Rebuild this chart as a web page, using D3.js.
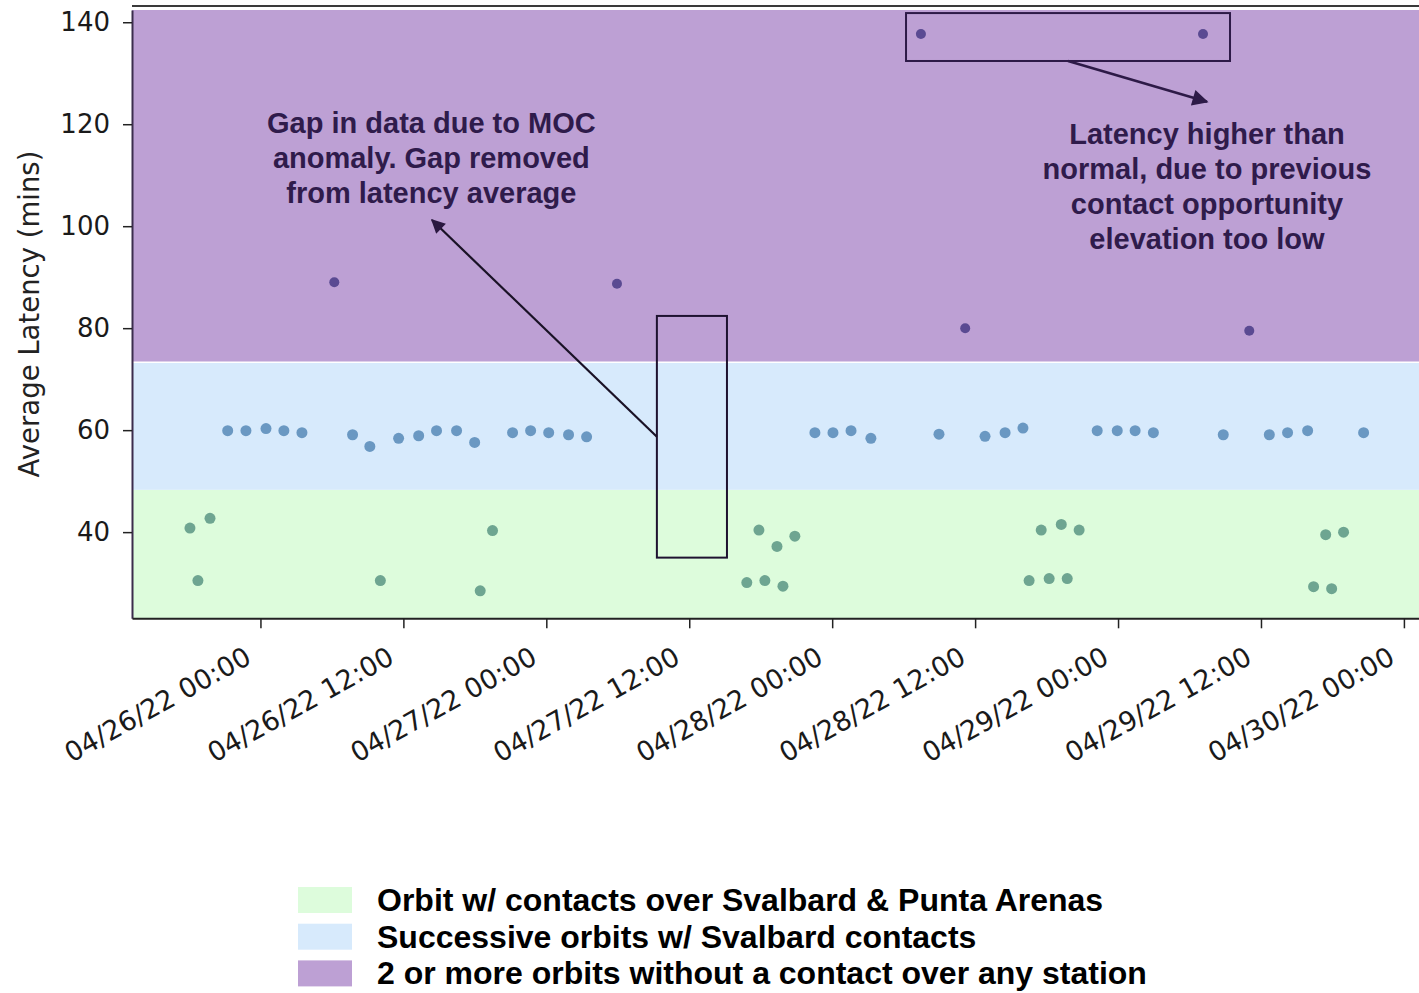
<!DOCTYPE html>
<html><head><meta charset="utf-8">
<script src="https://cdn.jsdelivr.net/npm/d3@7"></script>
<style>body{margin:0;background:#fff}svg{display:block}</style>
</head><body><svg id="c" width="1419" height="993"></svg>
<script>
// ---------- data ----------
const xTickDates = ["2022-04-26T00:00","2022-04-26T12:00","2022-04-27T00:00","2022-04-27T12:00","2022-04-28T00:00","2022-04-28T12:00","2022-04-29T00:00","2022-04-29T12:00","2022-04-30T00:00"];
const yTickValues = [40,60,80,100,120,140];
const xDomain = ["2022-04-25T13:13","2022-04-30T01:16"];
const yDomain = [23.1, 142.4];

const greenTimes = ["2022-04-25T18:05","2022-04-25T18:45","2022-04-25T19:46","2022-04-26T10:04","2022-04-26T18:27","2022-04-26T19:29",
  "2022-04-27T16:50","2022-04-27T17:51","2022-04-27T18:21","2022-04-27T19:22","2022-04-27T19:52","2022-04-27T20:52",
  "2022-04-28T16:32","2022-04-28T17:33","2022-04-28T18:13","2022-04-28T19:14","2022-04-28T19:44","2022-04-28T20:44",
  "2022-04-29T16:25","2022-04-29T17:26","2022-04-29T17:56","2022-04-29T18:56"];
const greenValues = [40.8,30.5,42.7,30.5,28.5,40.3, 30.1,40.4,30.5,37.2,29.4,39.2, 30.5,40.4,30.9,41.5,30.9,40.4, 29.3,39.5,28.9,40.0];

const blueTimes = ["2022-04-25T21:15","2022-04-25T22:47","2022-04-26T00:28","2022-04-26T01:58","2022-04-26T03:29",
  "2022-04-26T07:44","2022-04-26T09:11","2022-04-26T11:36","2022-04-26T13:17","2022-04-26T14:47","2022-04-26T16:28","2022-04-26T17:59",
  "2022-04-26T21:10","2022-04-26T22:41","2022-04-27T00:12","2022-04-27T01:52","2022-04-27T03:23",
  "2022-04-27T22:33","2022-04-28T00:04","2022-04-28T01:35","2022-04-28T03:15",
  "2022-04-28T08:58","2022-04-28T12:50","2022-04-28T14:31","2022-04-28T16:01",
  "2022-04-28T22:15","2022-04-28T23:56","2022-04-29T01:26","2022-04-29T02:58",
  "2022-04-29T08:50","2022-04-29T12:42","2022-04-29T14:14","2022-04-29T15:55","2022-04-29T20:37"];
const blueValues = [59.9,59.9,60.3,59.9,59.5, 59.1,56.8,58.4,58.9,59.9,59.9,57.6, 59.5,59.9,59.5,59.1,58.7,
  59.5,59.5,59.9,58.4, 59.2,58.8,59.5,60.4, 59.9,59.9,59.9,59.5, 59.1,59.1,59.5,59.9,59.5];

const purpleTimes = ["2022-04-26T06:12","2022-04-27T05:56","2022-04-28T07:27","2022-04-28T11:10","2022-04-29T07:08","2022-04-29T11:01"];
const purpleValues = [89.0,88.7,137.7,80.0,137.7,79.5];

const bandNames = ["Orbit w/ contacts over Svalbard & Punta Arenas","Successive orbits w/ Svalbard contacts","2 or more orbits without a contact over any station"];
const bandLimits = [23.1, 48.3, 73.3, 142.4];
const bandColors = ["#ddfcdc","#d7eafc","#bda0d4"];
const pointColors = ["#6ea591","#6a98c2","#5a4a92"];

const gapNote = ["Gap in data due to MOC","anomaly. Gap removed","from latency average"];
const highNote = ["Latency higher than","normal, due to previous","contact opportunity","elevation too low"];
// annotation anchors in data space
const gapBox = {t0:"2022-04-27T09:17", t1:"2022-04-27T15:10", v0:35.0, v1:82.4};
const gapArrow = {t0:"2022-04-27T09:17", v0:58.7, t1:"2022-04-26T14:24", v1:101.2};
const gapText = {t:"2022-04-26T14:21", v:118.3};
const highBox = {t0:"2022-04-28T06:12", t1:"2022-04-29T09:24", v0:132.4, v1:141.8};
const highArrow = {t0:"2022-04-28T19:48", v0:132.4, t1:"2022-04-29T07:28", v1:124.4};
const highText = {t:"2022-04-29T07:28", v:116.2};

// ---------- chart ----------
const parse = d3.timeParse("%Y-%m-%dT%H:%M");
const svg = d3.select("#c");
const L = 132, R = 1419, T = 10, B = 618.3;
const x = d3.scaleTime().domain(xDomain.map(parse)).range([L, R]);
const y = d3.scaleLinear().domain(yDomain).range([B, T]);

svg.append("defs").html(`
 <marker id="ah1" viewBox="0 0 10 10" refX="9" refY="5" markerWidth="17" markerHeight="14" markerUnits="userSpaceOnUse" orient="auto"><path d="M0,0 L10,5 L0,10 z" fill="#2a1840"/></marker>
 <marker id="ah2" viewBox="0 0 10 10" refX="9" refY="5" markerWidth="18" markerHeight="16" markerUnits="userSpaceOnUse" orient="auto"><path d="M0,0 L10,5 L0,10 z" fill="#2d1a47"/></marker>
 <clipPath id="pc"><rect x="${L}" y="${T}" width="${R-L}" height="${B-T}"/></clipPath>`);

// top frame line
svg.append("line").attr("x1", L).attr("x2", R).attr("y1", 6).attr("y2", 6).attr("stroke", "#3a3a3a").attr("stroke-width", 2);

// bands
const g = svg.append("g").attr("clip-path", "url(#pc)");
bandColors.forEach((c, i) => {
  g.append("rect").attr("x", L).attr("width", R - L)
    .attr("y", y(bandLimits[i+1])).attr("height", y(bandLimits[i]) - y(bandLimits[i+1]))
    .attr("fill", c);
});
g.append("line").attr("x1", L).attr("x2", R).attr("y1", y(bandLimits[2])).attr("y2", y(bandLimits[2]))
  .attr("stroke", "#fff").attr("stroke-width", 1.5);

// points
const series = [[greenTimes, greenValues], [blueTimes, blueValues], [purpleTimes, purpleValues]];
series.forEach(([ts, vs], i) => {
  g.selectAll(null).data(ts.map((t, j) => [parse(t), vs[j]])).enter().append("circle")
    .attr("cx", d => x(d[0])).attr("cy", d => y(d[1])).attr("r", i === 2 ? 5 : 5.5)
    .attr("fill", pointColors[i]);
});

// axes
const yAx = svg.append("g").attr("transform", `translate(${L},0)`)
  .call(d3.axisLeft(y).tickValues(yTickValues).tickSize(9).tickPadding(13).tickSizeOuter(0));
yAx.select(".domain").attr("stroke", "#3b2c4c").attr("stroke-width", 2);
yAx.selectAll(".tick line").attr("stroke", "#222").attr("stroke-width", 1.5);
yAx.selectAll("text").attr("font-family", "DejaVu Sans").attr("font-size", 26).attr("fill", "#1a1a1a");

const fmt = d3.timeFormat("%m/%d/%y %H:%M");
const xAx = svg.append("g").attr("transform", `translate(0,${B})`)
  .call(d3.axisBottom(x).tickValues(xTickDates.map(parse)).tickFormat(fmt).tickSize(10).tickSizeOuter(0));
xAx.select(".domain").attr("stroke", "#222").attr("stroke-width", 2);
xAx.selectAll(".tick line").attr("stroke", "#222").attr("stroke-width", 1.5);
xAx.selectAll("text").attr("font-family", "DejaVu Sans").attr("font-size", 27).attr("fill", "#1a1a1a")
  .attr("text-anchor", "end").attr("dy", null).attr("y", 0)
  .attr("transform", "translate(-8,44) rotate(-29)");

// y label
svg.append("text").attr("transform", `translate(39,${(150+478)/2}) rotate(-90)`)
  .attr("text-anchor", "middle").attr("font-family", "DejaVu Sans").attr("font-size", 27.5).attr("fill", "#222")
  .text("Average Latency (mins)");

// annotations
const ann = svg.append("g");
ann.append("rect").attr("x", x(parse(gapBox.t0))).attr("y", y(gapBox.v1))
  .attr("width", x(parse(gapBox.t1)) - x(parse(gapBox.t0))).attr("height", y(gapBox.v0) - y(gapBox.v1))
  .attr("fill", "none").attr("stroke", "#1e1230").attr("stroke-width", 2);
ann.append("line").attr("x1", x(parse(gapArrow.t0))).attr("y1", y(gapArrow.v0))
  .attr("x2", x(parse(gapArrow.t1))).attr("y2", y(gapArrow.v1))
  .attr("stroke", "#1a1226").attr("stroke-width", 2.2).attr("marker-end", "url(#ah1)");
ann.append("rect").attr("x", x(parse(highBox.t0))).attr("y", y(highBox.v1))
  .attr("width", x(parse(highBox.t1)) - x(parse(highBox.t0))).attr("height", y(highBox.v0) - y(highBox.v1))
  .attr("fill", "none").attr("stroke", "#2d1a47").attr("stroke-width", 2);
ann.append("line").attr("x1", x(parse(highArrow.t0))).attr("y1", y(highArrow.v0))
  .attr("x2", x(parse(highArrow.t1))).attr("y2", y(highArrow.v1))
  .attr("stroke", "#2d1a47").attr("stroke-width", 2.5).attr("marker-end", "url(#ah2)");

function note(lines, pos) {
  const t = ann.append("text").attr("x", x(parse(pos.t))).attr("y", y(pos.v))
    .attr("text-anchor", "middle").attr("font-family", "Liberation Sans, Arial").attr("font-weight", "bold")
    .attr("font-size", 29).attr("fill", "#2f1b4b");
  lines.forEach((l, i) => t.append("tspan").attr("x", x(parse(pos.t))).attr("dy", i ? 35 : 0).text(l));
}
note(gapNote, gapText);
note(highNote, highText);

// legend
const lg = svg.append("g");
bandNames.forEach((n, i) => {
  const yy = 900 + i * 36.7;
  lg.append("rect").attr("x", 298).attr("y", yy - 13).attr("width", 54).attr("height", 26).attr("fill", bandColors[i]);
  lg.append("text").attr("x", 377).attr("y", yy + 11).attr("font-family", "Liberation Sans, Arial")
    .attr("font-weight", "bold").attr("font-size", 32).attr("fill", "#000").text(n);
});
</script></body></html>
